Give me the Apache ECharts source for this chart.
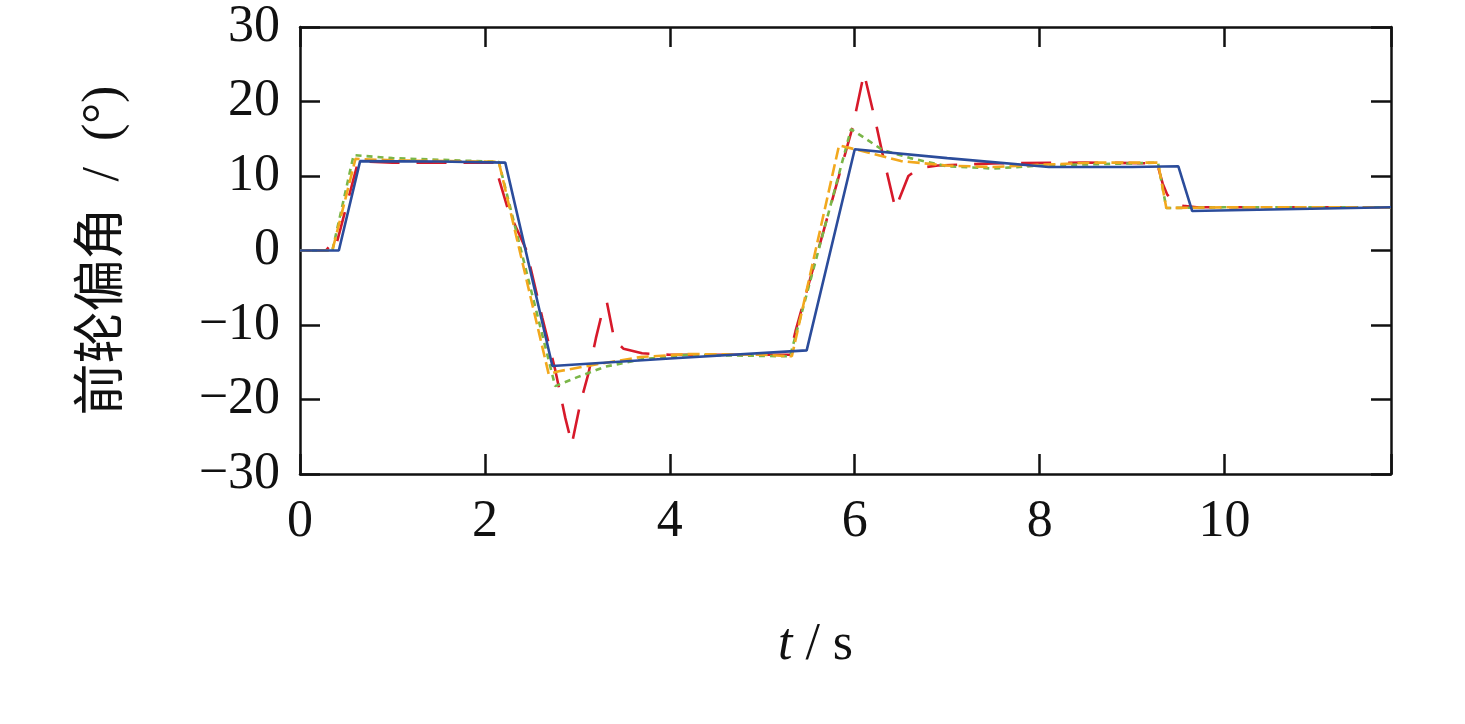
<!DOCTYPE html>
<html>
<head>
<meta charset="utf-8">
<script src="https://cdn.jsdelivr.net/npm/echarts@6/dist/echarts.min.js"></script>
<style>
html,body{margin:0;padding:0;background:#fff;}
#c{width:1465px;height:724px;}
</style>
</head>
<body>
<div id="c"></div>
<script>
// ---- data (time in s, front-wheel angle in degrees) ----
const xTicks = [0, 2, 4, 6, 8, 10];
const yTicks = [-30, -20, -10, 0, 10, 20, 30];

const redT = [0, 0.28, 0.33, 0.38, 0.63, 1.0, 2.1, 2.25, 2.45, 2.62, 2.76, 2.87, 2.94, 3.03, 3.12, 3.2, 3.28, 3.32, 3.4, 3.5, 3.7, 4.0, 5.3, 5.36, 5.98, 6.1, 6.23, 6.3, 6.44, 6.58, 6.7, 6.9, 7.5, 8.5, 9.27, 9.33, 9.38, 9.45, 9.55, 9.7, 10.5, 11.8];
const redV = [0, 0, 0.7, 0.2, 12, 11.8, 11.8, 5.5, 0, -9, -16, -22.5, -26, -20.6, -16.5, -11.8, -7.7, -7.0, -12, -13.2, -13.8, -14, -14, -10.8, 16.7, 23.8, 17, 13, 5.6, 10, 11.1, 11.4, 11.7, 11.8, 11.7, 9, 7.5, 6.5, 6.0, 5.8, 5.8, 5.8];

const greenT = [0, 0.35, 0.58, 1.0, 2.15, 2.76, 3.0, 3.3, 3.7, 4.2, 5.3, 5.96, 6.3, 6.6, 7.0, 7.5, 8.0, 9.0, 9.28, 9.37, 10, 11.8];
const greenV = [0, 0, 12.8, 12.4, 11.9, -18.2, -17, -15.6, -14.6, -14, -14.2, 16.3, 13.5, 12.4, 11.3, 11.0, 11.4, 11.7, 11.8, 5.7, 5.8, 5.8];

const orangeT = [0, 0.35, 0.6, 1.0, 2.15, 2.69, 2.8, 3.2, 3.68, 4.2, 5.0, 5.32, 5.83, 6.1, 6.5, 7.0, 7.5, 8.0, 8.6, 9.28, 9.37, 10.0, 11.8];
const orangeV = [0, 0, 12.3, 12.1, 11.9, -16.6, -16.2, -15.3, -14.3, -13.9, -14.0, -14.2, 14.1, 13.3, 12.0, 11.4, 11.2, 11.5, 11.8, 11.8, 5.7, 5.8, 5.8];

const blueT = [0, 0.42, 0.65, 1.5, 2.22, 2.73, 4.0, 5.48, 6.0, 7.0, 8.1, 9.0, 9.5, 9.65, 10.5, 11.8];
const blueV = [0, 0, 12, 11.95, 11.8, -15.5, -14.5, -13.4, 13.6, 12.4, 11.2, 11.2, 11.3, 5.3, 5.5, 5.8];

function pairs(t, v) { return t.map((x, i) => [x, v[i]]); }

const FONT = "'Liberation Serif', 'Noto Sans CJK SC', serif";
const ticksInside = { show: true, inside: true, length: 20, lineStyle: { color: '#111', width: 2.5 } };
const axisLine = { show: true, onZero: false, lineStyle: { color: '#111', width: 2.5 } };

const chart = echarts.init(document.getElementById('c'));
chart.setOption({
  animation: false,
  backgroundColor: '#fff',
  grid: { left: 300, top: 27, right: 74, bottom: 250, containLabel: false },
  xAxis: [
    {
      type: 'value', min: 0, max: 11.8, interval: 2, position: 'bottom',
      axisLine: axisLine, axisTick: ticksInside, splitLine: { show: false },
      axisLabel: { color: '#111', fontFamily: FONT, fontSize: 52, margin: 22,
        formatter: v => (xTicks.includes(v) ? String(v) : '') },
      name: '{i|t} / s', nameLocation: 'middle', nameGap: 145,
      nameTextStyle: { color: '#111', fontFamily: FONT, fontSize: 52, padding: [0, 60, 0, 0],
        rich: { i: { fontFamily: FONT, fontSize: 52, fontStyle: 'italic', color: '#111' } } }
    },
    {
      type: 'value', min: 0, max: 11.8, interval: 2, position: 'top',
      axisLine: axisLine, axisTick: ticksInside, splitLine: { show: false },
      axisLabel: { show: false }
    }
  ],
  yAxis: [
    {
      type: 'value', min: -30, max: 30, interval: 10, position: 'left',
      axisLine: axisLine, axisTick: ticksInside, splitLine: { show: false },
      axisLabel: { color: '#111', fontFamily: FONT, fontSize: 52, margin: 20,
        formatter: v => (yTicks.includes(v) ? String(v).replace('-', '\u2212') : '') },
      name: '前轮偏角  /  (°)', nameLocation: 'middle', nameGap: 170,
      nameTextStyle: { color: '#111', fontFamily: FONT, fontSize: 52 }
    },
    {
      type: 'value', min: -30, max: 30, interval: 10, position: 'right',
      axisLine: axisLine, axisTick: ticksInside, splitLine: { show: false },
      axisLabel: { show: false }
    }
  ],
  series: [
    { type: 'line', data: pairs(redT, redV), showSymbol: false, symbol: 'none',
      lineStyle: { color: '#d7192a', width: 2.6, type: [30, 17] } },
    { type: 'line', data: pairs(greenT, greenV), showSymbol: false, symbol: 'none',
      lineStyle: { color: '#7ab648', width: 2.6, type: [6, 5] } },
    { type: 'line', data: pairs(orangeT, orangeV), showSymbol: false, symbol: 'none',
      lineStyle: { color: '#f2a81d', width: 2.6, type: [12, 5] } },
    { type: 'line', data: pairs(blueT, blueV), showSymbol: false, symbol: 'none',
      lineStyle: { color: '#2b4c9b', width: 2.6, type: 'solid' } }
  ]
});
</script>
</body>
</html>
